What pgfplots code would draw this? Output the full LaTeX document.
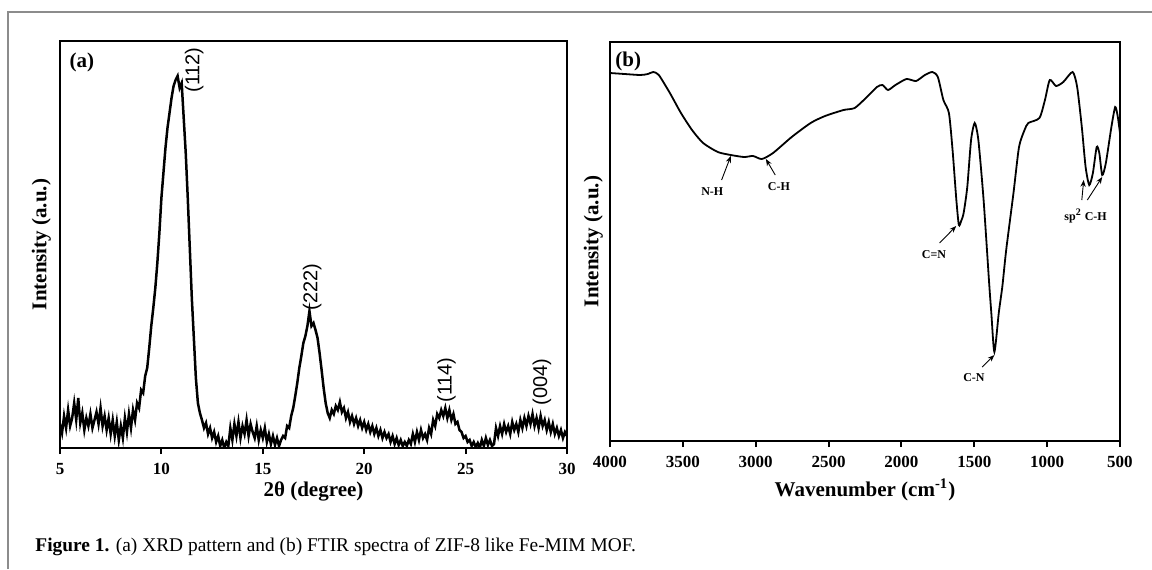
\documentclass[border=0pt]{standalone}
\usepackage{fontspec}
\setmainfont{Liberation Serif}
\newfontfamily\arial{Liberation Sans}
\usepackage{pgfplots}
\pgfplotsset{compat=1.18}
\usetikzlibrary{arrows.meta}
\begin{document}
\begin{tikzpicture}
\path[use as bounding box] (0pt,0pt) rectangle (576pt,-284.5pt);
\draw[line width=0.9pt,color=black!45] (4pt,-284.5pt) -- (4pt,-6pt) -- (576pt,-6pt);
\coordinate (A) at (30pt,-224pt);
\coordinate (B) at (305pt,-220.5pt);
\pgfplotsset{
  myax/.style={
    scale only axis,
    axis line style={line width=1.2pt},
    tick align=outside,
    major tick length=3pt,
    xtick pos=bottom,
    ytick=\empty,
    every tick/.style={black,line width=1pt},
    /pgf/number format/assume math mode=true,
    /pgf/number format/1000 sep={},
    ticklabel style={font=\bfseries\fontsize{8.5}{9}\selectfont},
    xticklabel style={yshift=-1pt},
    label style={font=\bfseries\fontsize{10.5}{12}\selectfont},
  }
}
% ---------------- (a) XRD ----------------
\begin{axis}[myax,
  at={(A)}, anchor=south west,
  width=253.5pt, height=203.5pt,
  xmin=5, xmax=30, ymin=0, ymax=407,
  xtick={5,10,15,20,25,30},
  xlabel={2θ (degree)},
  ylabel={Intensity (a.u.)},
  xlabel style={yshift=3pt},
  ylabel style={yshift=-2pt},
  clip=true]
\addplot[black, line width=1.25pt] coordinates {
(5.0,24)(5.1,15)(5.2,32)(5.3,20)(5.4,38)(5.5,22)(5.6,30)(5.7,45)(5.8,28)(5.9,50)
(6.0,25)(6.1,35)(6.2,18)(6.3,30)(6.4,22)(6.5,34)(6.6,20)(6.7,28)(6.8,36)(6.9,24)
(7.0,40)(7.1,22)(7.2,32)(7.3,18)(7.4,30)(7.5,14)(7.6,28)(7.7,12)(7.8,26)(7.9,8)
(8.0,22)(8.1,10)(8.2,30)(8.3,16)(8.4,34)(8.5,20)(8.6,38)(8.7,28)(8.8,45)(8.9,40)
(9.0,58)(9.1,55)(9.2,72)(9.3,80)(9.4,100)(9.5,122)(9.6,140)(9.7,160)(9.8,185)(9.9,215)
(10.0,250)(10.1,275)(10.2,300)(10.3,320)(10.4,335)(10.5,350)(10.6,362)(10.7,368)(10.8,372)(10.9,360)
(11.0,365)(11.1,330)(11.2,295)(11.3,250)(11.4,200)(11.5,150)(11.6,110)(11.7,70)(11.8,45)(11.9,35)
(12.0,28)(12.1,20)(12.2,25)(12.3,14)(12.4,20)(12.5,10)(12.6,16)(12.7,6)(12.8,12)(12.9,2)
(13.0,8)(13.1,0)(13.2,6)(13.3,2)(13.4,20)(13.5,8)(13.6,24)(13.7,12)(13.8,26)(13.9,10)
(14.0,22)(14.1,14)(14.2,28)(14.3,12)(14.4,24)(14.5,16)(14.6,10)(14.7,22)(14.8,8)(14.9,18)
(15.0,10)(15.1,20)(15.2,6)(15.3,14)(15.4,4)(15.5,12)(15.6,3)(15.7,10)(15.8,2)(15.9,8)
(16.0,12)(16.1,10)(16.2,22)(16.3,20)(16.4,32)(16.5,40)(16.6,52)(16.7,65)(16.8,80)(16.9,92)
(17.0,105)(17.1,112)(17.2,122)(17.3,137)(17.4,122)(17.5,125)(17.6,118)(17.7,110)(17.8,95)(17.9,78)
(18.0,60)(18.1,45)(18.2,35)(18.3,30)(18.4,38)(18.5,34)(18.6,42)(18.7,38)(18.8,46)(18.9,36)
(19.0,40)(19.1,30)(19.2,36)(19.3,26)(19.4,32)(19.5,24)(19.6,30)(19.7,22)(19.8,28)(19.9,20)
(20.0,26)(20.1,18)(20.2,24)(20.3,16)(20.4,22)(20.5,14)(20.6,20)(20.7,12)(20.8,18)(20.9,10)
(21.0,16)(21.1,10)(21.2,14)(21.3,6)(21.4,12)(21.5,4)(21.6,10)(21.7,3)(21.8,8)(21.9,2)
(22.0,6)(22.1,2)(22.2,8)(22.3,4)(22.4,14)(22.5,6)(22.6,16)(22.7,8)(22.8,18)(22.9,10)
(23.0,14)(23.1,8)(23.2,20)(23.3,14)(23.4,28)(23.5,22)(23.6,34)(23.7,30)(23.8,38)(23.9,32)
(24.0,40)(24.1,30)(24.2,38)(24.3,28)(24.4,34)(24.5,24)(24.6,26)(24.7,18)(24.8,16)(24.9,10)
(25.0,12)(25.1,6)(25.2,8)(25.3,2)(25.4,6)(25.5,1)(25.6,5)(25.7,0)(25.8,8)(25.9,2)
(26.0,10)(26.1,3)(26.2,8)(26.3,2)(26.4,4)(26.5,20)(26.6,12)(26.7,22)(26.8,14)(26.9,24)
(27.0,16)(27.1,22)(27.2,14)(27.3,26)(27.4,18)(27.5,24)(27.6,16)(27.7,28)(27.8,20)(27.9,30)
(28.0,22)(28.1,32)(28.2,24)(28.3,34)(28.4,22)(28.5,30)(28.6,20)(28.7,32)(28.8,22)(28.9,28)
(29.0,18)(29.1,26)(29.2,16)(29.3,24)(29.4,14)(29.5,20)(29.6,12)(29.7,18)(29.8,10)(29.9,16)
(30.0,12)
};
\node[font=\bfseries\fontsize{10.5}{12}\selectfont, anchor=north west, inner sep=0pt] at (rel axis cs:0.018,0.972) {(a)};
\node[font=\arial\fontsize{10}{11}\selectfont, rotate=90] at (axis cs:11.62,378) {(112)};
\node[font=\arial\fontsize{10}{11}\selectfont, rotate=90] at (axis cs:17.43,161) {(222)};
\node[font=\arial\fontsize{10}{11}\selectfont, rotate=90] at (axis cs:24.05,68) {(114)};
\node[font=\arial\fontsize{10}{11}\selectfont, rotate=90] at (axis cs:28.77,66) {(004)};
\end{axis}
% ---------------- (b) FTIR ----------------
\begin{axis}[myax,
  at={(B)}, anchor=south west,
  width=255pt, height=199.5pt,
  x dir=reverse,
  xmin=500, xmax=4000, ymin=0, ymax=399,
  xtick={500,1000,1500,2000,2500,3000,3500,4000},
  xlabel={Wavenumber (cm\textsuperscript{-1})},
  ylabel={Intensity (a.u.)},
  xlabel style={yshift=1pt},
  ylabel style={yshift=-3pt}]
\addplot[black, line width=0.9pt, smooth, tension=0.4] coordinates {
(4000,368)(3900,367)(3792,366)(3740,367)(3703,369)(3665,366)(3589,348)(3513,328)
(3437,311)(3361,298)(3260,289)(3171,286)(3080,284)(3018,285)(2958,282)(2881,288)
(2753,304)(2623,318)(2524,325)(2397,331)(2321,333)(2244,343)(2168,354)(2130,356)
(2092,351)(2041,356)(1965,362)(1900,360)(1839,366)(1788,369)(1750,364)(1712,341)
(1674,328)(1649,291)(1623,241)(1606,216)(1590,220)(1573,228)(1548,254)(1522,301)
(1497,318)(1472,301)(1436,241)(1398,158)(1383,128)(1362,89)(1332,128)(1307,155)
(1281,191)(1231,248)(1193,294)(1155,311)(1129,318)(1053,323)(1015,341)(982,361)
(939,355)(889,359)(825,369)(794,354)(762,314)(736,274)(711,256)(686,268)(660,294)
(642,288)(622,266)(597,278)(559,314)(533,334)(516,325)(500,308)
};
\tikzset{arr/.style={-{Stealth[length=3.4pt,width=2.6pt]}, line width=0.45pt}}
\node[font=\bfseries\fontsize{10.5}{12}\selectfont, anchor=north west, inner sep=0pt] at (rel axis cs:0.01,0.977) {(b)};
\node[font=\bfseries\fontsize{6}{7}\selectfont] at (axis cs:3298,249) {N-H};
\draw[arr] (axis cs:3234,261) -- (axis cs:3171,285);
\node[font=\bfseries\fontsize{6}{7}\selectfont] at (axis cs:2841,254) {C-H};
\draw[arr] (axis cs:2866,266) -- (axis cs:2930,282);
\node[font=\bfseries\fontsize{6}{7}\selectfont] at (axis cs:1776,186) {C=N};
\draw[arr] (axis cs:1738,198) -- (axis cs:1624,215);
\node[font=\bfseries\fontsize{6}{7}\selectfont] at (axis cs:1502,63) {C-N};
\draw[arr] (axis cs:1446,74) -- (axis cs:1362,86);
\node[font=\bfseries\fontsize{6}{7}\selectfont] at (axis cs:736,225) {sp\textsuperscript{2} C-H};
\draw[arr] (axis cs:762,241) -- (axis cs:749,261);
\draw[arr] (axis cs:724,241) -- (axis cs:622,264);
\end{axis}
\node[anchor=base west, inner sep=0pt, font=\fontsize{9.7}{11}\selectfont] at (17.5pt,-275.8pt) {\textbf{Figure 1.} (a) XRD pattern and (b) FTIR spectra of ZIF-8 like Fe-MIM MOF.};
\end{tikzpicture}
\end{document}
